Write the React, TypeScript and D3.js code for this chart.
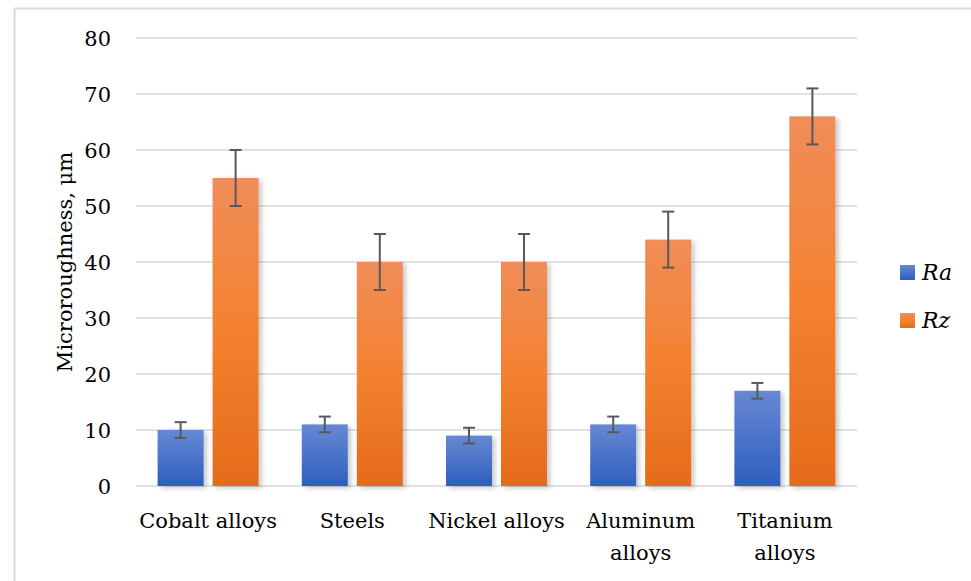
import React from "react";
import * as d3 from "d3";

const categories: string[][] = [
  ["Cobalt alloys"],
  ["Steels"],
  ["Nickel alloys"],
  ["Aluminum", "alloys"],
  ["Titanium", "alloys"],
];
const seriesNames = ["Ra", "Rz"];
const raValues = [10, 11, 9, 11, 17];
const raErrors = [1.4, 1.4, 1.4, 1.4, 1.4];
const rzValues = [55, 40, 40, 44, 66];
const rzErrors = [5, 5, 5, 5, 5];
const yTicks = [0, 10, 20, 30, 40, 50, 60, 70, 80];
const yLabel = "Microroughness, μm";

const W = 971;
const H = 581;
const FONT = "'DejaVu Serif', 'Liberation Serif', serif";

export default function App() {
  const x = d3
    .scaleBand<number>()
    .domain(d3.range(categories.length))
    .range([136, 857])
    .paddingInner(0)
    .paddingOuter(0);
  const y = d3.scaleLinear().domain([0, 80]).range([486, 38]);
  const barW = 46;
  const gap = 9;
  const series = [
    { name: seriesNames[0], values: raValues, errors: raErrors, grad: "gradRa" },
    { name: seriesNames[1], values: rzValues, errors: rzErrors, grad: "gradRz" },
  ];
  const groupW = barW * 2 + gap;

  return (
    <svg
      width={W}
      height={H}
      style={{ position: "absolute", left: 0, top: 0, background: "#fff" }}
      fontFamily={FONT}
    >
      <defs>
        <linearGradient id="gradRa" x1="0" y1="0" x2="0" y2="1">
          <stop offset="0%" stopColor="#6788d4" />
          <stop offset="100%" stopColor="#2e5ebd" />
        </linearGradient>
        <linearGradient id="gradRz" x1="0" y1="0" x2="0" y2="1">
          <stop offset="0%" stopColor="#f08d59" />
          <stop offset="50%" stopColor="#f4812f" />
          <stop offset="100%" stopColor="#e46b1a" />
        </linearGradient>
        <filter id="shadow" x="-30%" y="-10%" width="160%" height="120%">
          <feDropShadow dx="3" dy="2" stdDeviation="2.5" floodColor="#000" floodOpacity="0.22" />
        </filter>
      </defs>
      {/* chart frame */}
      <line x1={14} y1={8.5} x2={W} y2={8.5} stroke="#d9d9d9" strokeWidth={2} />
      <line x1={14.5} y1={8} x2={14.5} y2={H} stroke="#d9d9d9" strokeWidth={2} />

      {/* gridlines and y ticks */}
      {yTicks.map((t) => (
        <g key={t}>
          <line x1={136} x2={857} y1={y(t)} y2={y(t)} stroke="#d9d9d9" strokeWidth={1.6} />
          <text x={111} y={y(t)} dy="0.36em" textAnchor="end" fontSize={21} fill="#000">
            {t}
          </text>
        </g>
      ))}

      {/* bars */}
      {categories.map((c, i) => {
        const cx = (x(i) as number) + x.bandwidth() / 2;
        const x0 = cx - groupW / 2;
        return (
          <g key={i}>
            {series.map((s, j) => {
              const bx = x0 + j * (barW + gap);
              const v = s.values[i];
              const e = s.errors[i];
              const mx = bx + barW / 2;
              return (
                <g key={j}>
                  <rect
                    x={bx}
                    y={y(v)}
                    width={barW}
                    height={y(0) - y(v)}
                    fill={`url(#${s.grad})`}
                    filter="url(#shadow)"
                  />
                  <line x1={mx} x2={mx} y1={y(v + e)} y2={y(v - e)} stroke="#595959" strokeWidth={2} />
                  <line x1={mx - 6} x2={mx + 6} y1={y(v + e)} y2={y(v + e)} stroke="#595959" strokeWidth={2} />
                  <line x1={mx - 6} x2={mx + 6} y1={y(v - e)} y2={y(v - e)} stroke="#595959" strokeWidth={2} />
                </g>
              );
            })}
            <text textAnchor="middle" fontSize={21} fill="#000">
              {c.map((line, k) => (
                <tspan key={k} x={cx} y={528 + k * 32}>
                  {line}
                </tspan>
              ))}
            </text>
          </g>
        );
      })}

      {/* y-axis label */}
      <text
        transform={`translate(72, 262) rotate(-90)`}
        textAnchor="middle"
        fontSize={21}
        fill="#000"
      >
        {yLabel}
      </text>

      {/* legend */}
      {series.map((s, j) => (
        <g key={s.name} transform={`translate(900, ${265 + j * 48})`}>
          <rect x={0} y={0} width={15} height={15} fill={`url(#${s.grad})`} />
          <text x={22} y={15} fontSize={22} fontStyle="italic" fill="#000">
            {s.name}
          </text>
        </g>
      ))}
    </svg>
  );
}
